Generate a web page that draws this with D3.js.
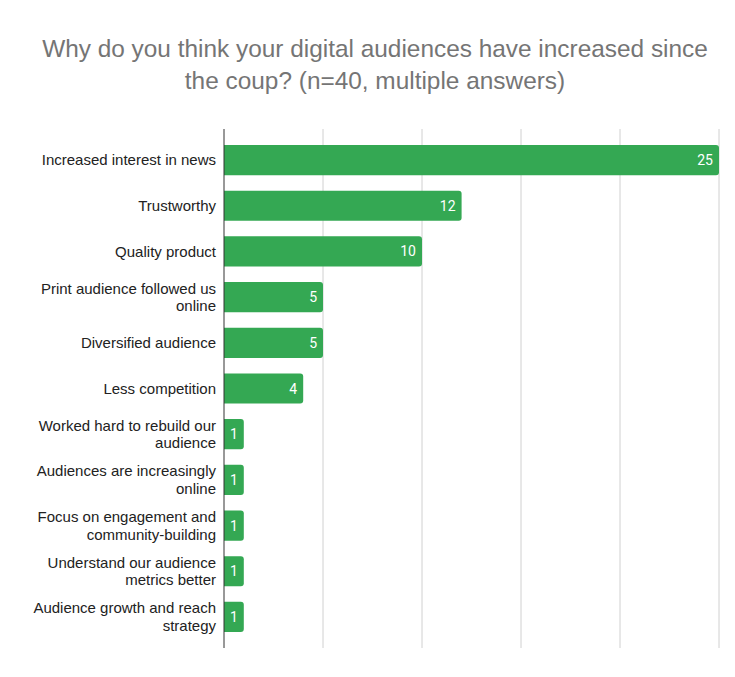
<!DOCTYPE html>
<html>
<head>
<meta charset="utf-8">
<script src="https://cdn.jsdelivr.net/npm/d3@7"></script>
<style>
  body { margin: 0; background: #fff; }
  svg { display: block; }
</style>
</head>
<body>
<svg id="chart" width="735" height="677"></svg>
<script>
// Categories, each split into the lines shown on the axis
const categories = [
  ['Increased interest in news'],
  ['Trustworthy'],
  ['Quality product'],
  ['Print audience followed us', 'online'],
  ['Diversified audience'],
  ['Less competition'],
  ['Worked hard to rebuild our', 'audience'],
  ['Audiences are increasingly', 'online'],
  ['Focus on engagement and', 'community-building'],
  ['Understand our audience', 'metrics better'],
  ['Audience growth and reach', 'strategy'],
];
const counts = [25, 12, 10, 5, 5, 4, 1, 1, 1, 1, 1];
const xTicks = [0, 5, 10, 15, 20, 25];

const titleLines = [
  'Why do you think your digital audiences have increased since',
  'the coup? (n=40, multiple answers)',
];

const margin = { top: 129, right: 16, bottom: 29, left: 224 };
const width = 735, height = 677;

const svg = d3.select('#chart');

const x = d3.scaleLinear()
  .domain([0, 25])
  .range([margin.left, width - margin.right]);

const y = d3.scaleBand()
  .domain(d3.range(categories.length))
  .range([margin.top, height - margin.bottom])
  .paddingInner(0.34)
  .paddingOuter(0.35);

// Title
svg.append('g')
  .selectAll('text')
  .data(titleLines)
  .join('text')
    .attr('x', 375)
    .attr('y', (d, i) => 57 + i * 32)
    .attr('text-anchor', 'middle')
    .style('font-family', '"Liberation Sans", Arial, sans-serif')
    .style('font-size', '24.4px')
    .style('fill', '#757575')
    .text((d) => d);

// Vertical gridlines
svg.append('g')
  .selectAll('line')
  .data(xTicks.slice(1))
  .join('line')
    .attr('x1', (d) => x(d))
    .attr('x2', (d) => x(d))
    .attr('y1', margin.top)
    .attr('y2', height - margin.bottom)
    .style('stroke', '#d0d0d0')
    .style('stroke-width', 1);

// Bars, rounded only on the right end
const r = 3;
const barPath = (d, i) => {
  const x0 = x(0), x1 = x(d), y0 = y(i), h = y.bandwidth();
  return `M${x0},${y0}H${x1 - r}Q${x1},${y0} ${x1},${y0 + r}` +
    `V${y0 + h - r}Q${x1},${y0 + h} ${x1 - r},${y0 + h}H${x0}Z`;
};

svg.append('g')
  .selectAll('path')
  .data(counts)
  .join('path')
    .attr('d', barPath)
    .style('fill', '#34a853');

// Value labels inside bar ends
svg.append('g')
  .selectAll('text')
  .data(counts)
  .join('text')
    .attr('x', (d) => x(d) - 6)
    .attr('y', (d, i) => y(i) + y.bandwidth() / 2)
    .attr('dy', '0.36em')
    .attr('text-anchor', 'end')
    .style('font-family', 'Roboto, sans-serif')
    .style('font-size', '14px')
    .style('fill', '#fff')
    .text((d) => d);

// Category labels
const labels = svg.append('g')
  .selectAll('text')
  .data(categories)
  .join('text')
    .attr('text-anchor', 'end')
    .style('font-family', '"Liberation Sans", Arial, sans-serif')
    .style('font-size', '15px')
    .style('fill', '#222');

labels.each(function (lines, i) {
  const cy = y(i) + y.bandwidth() / 2;
  const lh = 17.5;
  const startY = cy - ((lines.length - 1) * lh) / 2;
  d3.select(this).selectAll('tspan')
    .data(lines)
    .join('tspan')
      .attr('x', 216)
      .attr('y', (d, j) => startY + j * lh)
      .attr('dy', '0.35em')
      .text((d) => d);
});

// Baseline axis
svg.append('line')
  .attr('x1', x(0))
  .attr('x2', x(0))
  .attr('y1', margin.top)
  .attr('y2', height - margin.bottom)
  .style('stroke', '#333')
  .style('stroke-width', 1);
</script>
</body>
</html>
